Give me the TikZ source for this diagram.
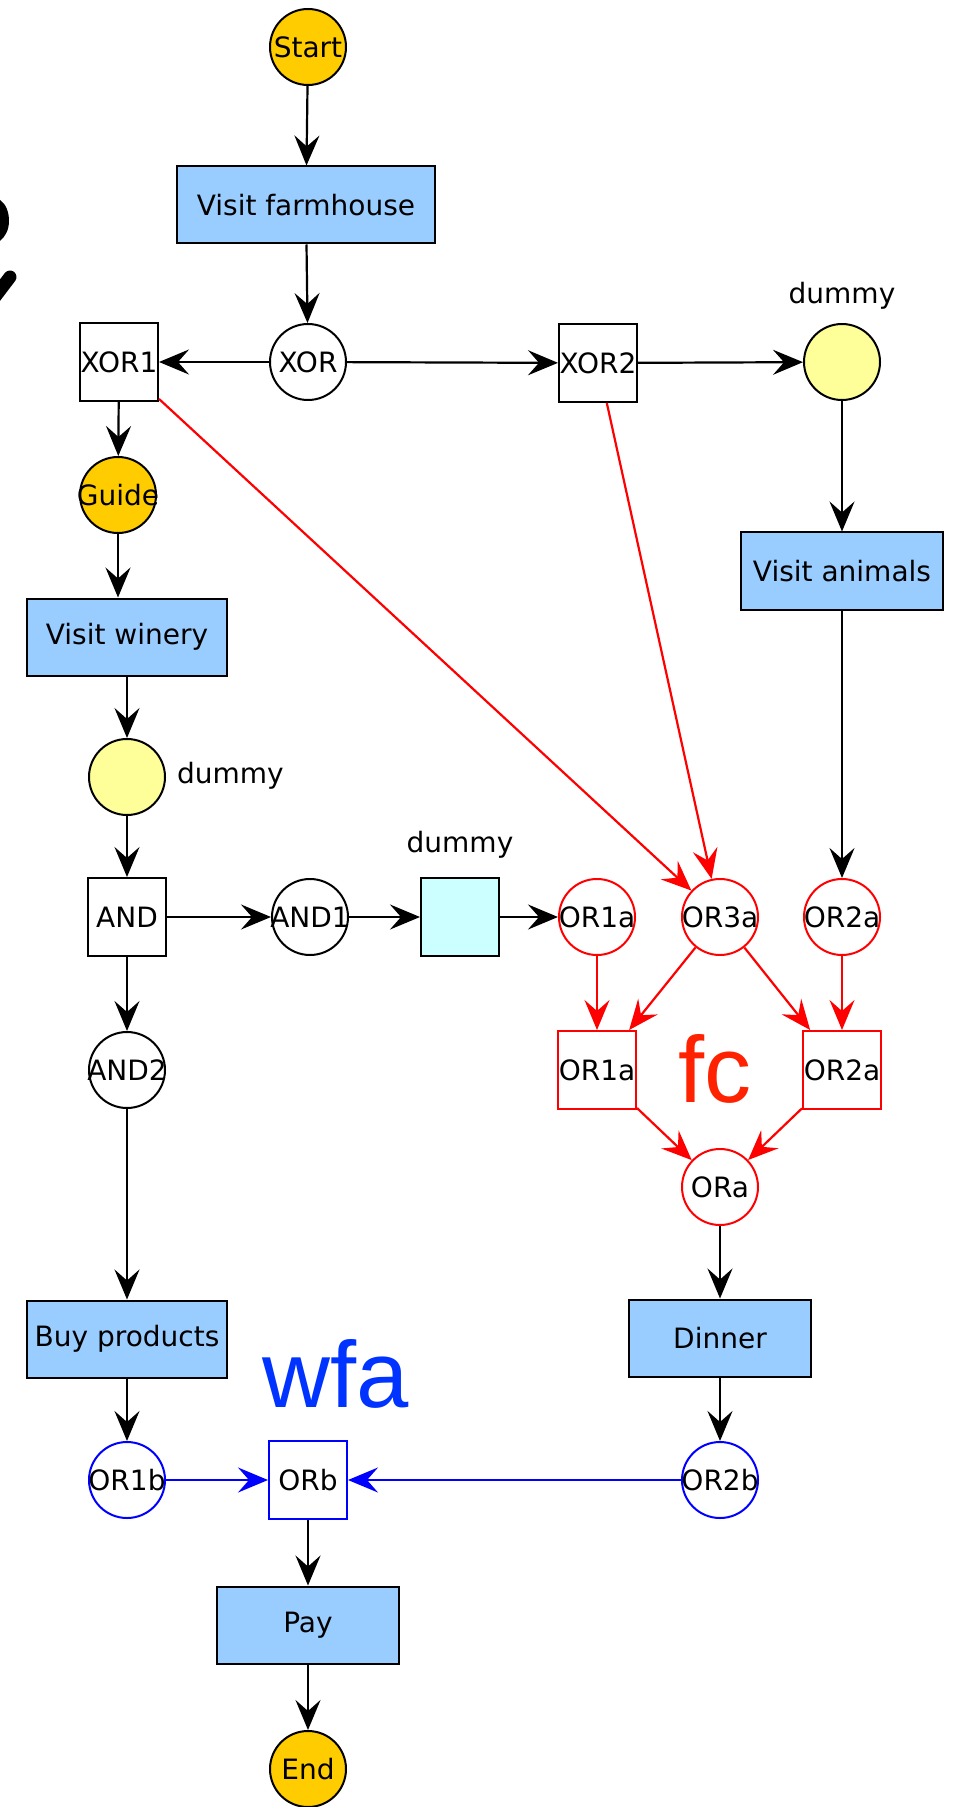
\documentclass[tikz,border=0pt]{standalone}
\usepackage{fontspec}
\setmainfont{DejaVu Sans}
\newfontfamily\bigfont{Liberation Sans}
\usetikzlibrary{arrows.meta}
\definecolor{taskblue}{RGB}{153,204,255}
\definecolor{gold}{RGB}{255,204,0}
\definecolor{paleyellow}{RGB}{255,255,153}
\definecolor{palecyan}{RGB}{204,255,255}
\definecolor{ored}{RGB}{255,0,0}
\definecolor{oblue}{RGB}{0,0,255}
\definecolor{fcred}{RGB}{255,34,0}
\definecolor{wfablue}{RGB}{0,51,255}
\begin{document}
\begin{tikzpicture}[x=0.5pt,y=-0.5pt,
  every node/.style={font=\fontsize{14pt}{16pt}\selectfont, text=black},
  task/.style={rectangle,draw=black,fill=taskblue,line width=1pt,minimum height=38.5pt,inner sep=0pt},
  gbox/.style={rectangle,draw=black,fill=white,line width=1pt,minimum width=39pt,minimum height=39pt,inner sep=0pt},
  gcirc/.style={circle,draw=black,fill=white,line width=1pt,minimum size=38pt,inner sep=0pt},
  rcirc/.style={gcirc,draw=ored},
  rbox/.style={gbox,draw=ored},
  bcirc/.style={gcirc,draw=oblue},
  bbox/.style={gbox,draw=oblue},
  bigtext/.style={font=\bigfont\fontsize{47pt}{50pt}\selectfont, anchor=base},
  arr/.style={-{Stealth[length=15pt,width=12.5pt,inset=5.5pt]},line width=1.1pt,draw=black},
  rarr/.style={arr,draw=ored},
  barr/.style={arr,draw=oblue}
]
\useasboundingbox (0,0) rectangle (957,1807);
\fill[white] (0,0) rectangle (957,1807);

% partial question mark at the left edge
\fill[black] (0,200) .. controls (6,204) and (9,212) .. (9,221) .. controls (9,230) and (5,237) .. (0,241) -- cycle;
\draw[black, line width=6.5pt, line cap=round] (-6,298) -- (10,277);

% nodes
\node[gcirc,fill=gold,label=center:Start] (start) at (308,47) {};
\node[task,minimum width=129pt] (farm) at (306,205) {Visit farmhouse};
\node[gcirc,label=center:XOR] (xor) at (308,362) {};
\node[gbox,label=center:XOR1] (xor1) at (119,362) {};
\node[gbox,label=center:XOR2] (xor2) at (598,363) {};
\node[gcirc,fill=paleyellow] (dumR) at (842,362) {};
\node (dumRl) at (842,296) {dummy};
\node[task,minimum width=101pt] (animals) at (842,571) {Visit animals};
\node[gcirc,fill=gold,label=center:Guide] (guide) at (118,495) {};
\node[task,minimum width=100pt] (winery) at (127,637) {Visit winery};
\node[gcirc,fill=paleyellow] (dumL) at (127,777) {};
\node[anchor=west] (dumLl) at (170,776) {dummy};
\node[gbox,label=center:AND] (and) at (127,917) {};
\node[gcirc,label=center:AND1] (and1) at (310,917) {};
\node[gbox,fill=palecyan] (cyan) at (460,917) {};
\node (cyanl) at (460,845) {dummy};
\node[rcirc,label=center:OR1a] (or1a) at (597,917) {};
\node[rcirc,label=center:OR3a] (or3a) at (720,917) {};
\node[rcirc,label=center:OR2a] (or2a) at (842,917) {};
\node[rbox,label=center:OR1a] (or1abox) at (597,1070) {};
\node[rbox,label=center:OR2a] (or2abox) at (842,1070) {};
\node[rcirc,label=center:ORa] (ora) at (720,1187) {};
\node[gcirc,label=center:AND2] (and2) at (127,1070) {};
\node[task,minimum width=100pt] (buy) at (127,1339) {Buy products};
\node[task,minimum width=91pt] (dinner) at (720,1338) {Dinner};
\node[bcirc,label=center:OR1b] (or1b) at (127,1480) {};
\node[bbox,label=center:ORb] (orb) at (308,1480) {};
\node[bcirc,label=center:OR2b] (or2b) at (720,1480) {};
\node[task,minimum width=91pt] (pay) at (308,1625) {Pay};
\node[gcirc,fill=gold,label=center:End] (end) at (308,1769) {};
\node[bigtext,text=fcred] (fc) at (715,1102) {fc};
\node[bigtext,text=wfablue] (wfa) at (336,1407) {wfa};

% black connectors
\draw[arr] (start) -- (farm);
\draw[arr] (farm) -- (xor);
\draw[arr] (xor) -- (xor1);
\draw[arr] (xor) -- (xor2);
\draw[arr] (xor2) -- (dumR);
\draw[arr] (dumR) -- (animals);
\draw[arr] (animals) -- (or2a);
\draw[arr] (xor1) -- (guide);
\draw[arr] (guide) -- (guide |- winery.north);
\draw[arr] (winery) -- (dumL);
\draw[arr] (dumL) -- (and);
\draw[arr] (and) -- (and1);
\draw[arr] (and1) -- (cyan);
\draw[arr] (cyan) -- (or1a);
\draw[arr] (and) -- (and2);
\draw[arr] (and2) -- (buy);
\draw[arr] (buy) -- (or1b);
\draw[arr] (ora) -- (dinner);
\draw[arr] (dinner) -- (or2b);
\draw[arr] (orb) -- (pay);
\draw[arr] (pay) -- (end);

% red connectors
\draw[rarr] (xor1) -- (or3a);
\draw[rarr] (xor2) -- (or3a);
\draw[rarr] (or1a) -- (or1abox);
\draw[rarr] (or3a) -- (or1abox);
\draw[rarr] (or3a) -- (or2abox);
\draw[rarr] (or2a) -- (or2abox);
\draw[rarr] (or1abox) -- (ora);
\draw[rarr] (or2abox) -- (ora);

% blue connectors
\draw[barr] (or1b) -- (orb);
\draw[barr] (or2b) -- (orb);
\end{tikzpicture}
\end{document}
